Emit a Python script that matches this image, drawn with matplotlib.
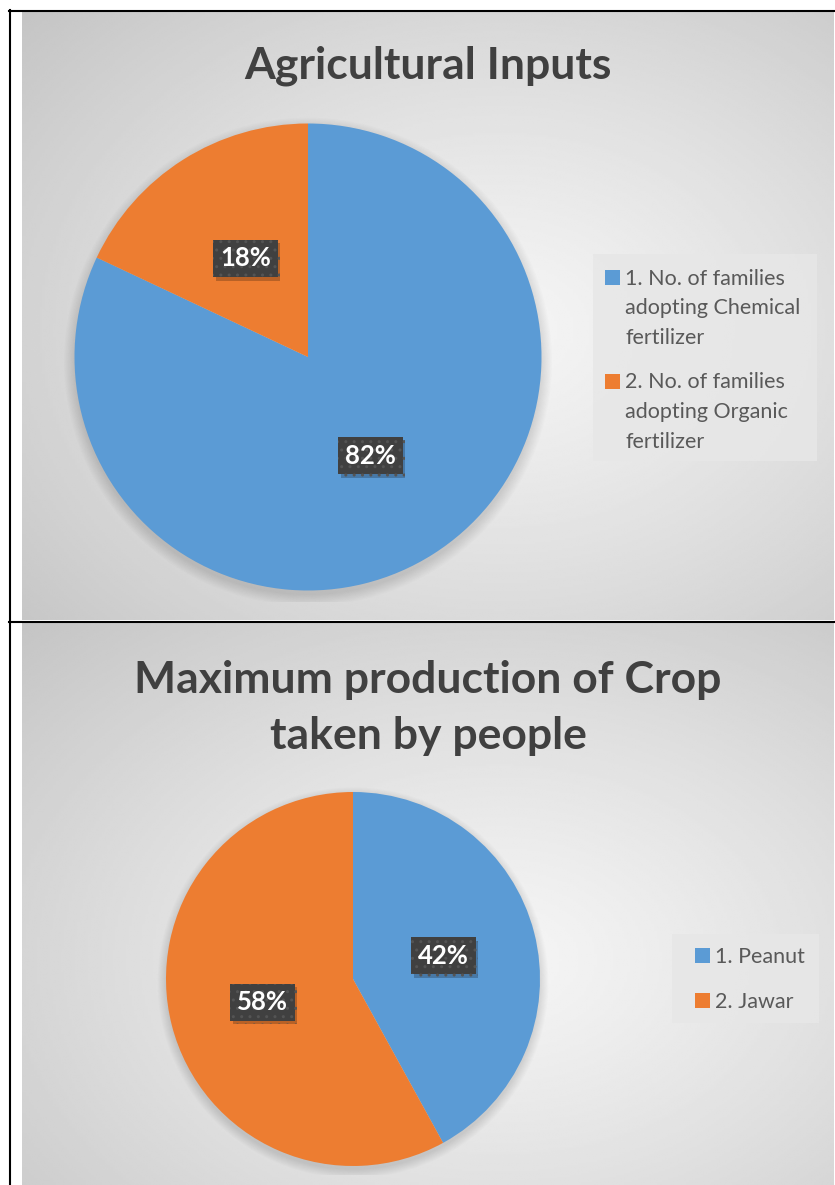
import numpy as np
import matplotlib
matplotlib.use("Agg")
import matplotlib.pyplot as plt
import matplotlib.patheffects as pe
from matplotlib.patches import Rectangle, Circle

W, H = 835, 1185

# chart data
top_title = ["Agricultural Inputs"]
top_labels = ["1. No. of families\nadopting Chemical\nfertilizer",
              "2. No. of families\nadopting Organic\nfertilizer"]
top_values = [82, 18]

bottom_title = ["Maximum production of Crop", "taken by people"]
bottom_labels = ["1. Peanut", "2. Jawar"]
bottom_values = [42, 58]

colors = ["#5B9BD5", "#ED7D31"]


def px_axes(fig, x0, y0, x1, y1, **kw):
    # axes from pixel box (top-left origin)
    return fig.add_axes([x0 / W, 1 - y1 / H, (x1 - x0) / W, (y1 - y0) / H], **kw)


def gradient(ax, x0, y0, x1, y1, cx, cy):
    xs = np.linspace(x0, x1, 300)
    ys = np.linspace(y0, y1, 300)
    X, Y = np.meshgrid(xs, ys)
    d = np.hypot((X - cx) / (x1 - x0), (Y - cy) / (y1 - y0))
    d = d / d.max()
    v = 0.96 - 0.19 * d ** 1.2
    ax.imshow(v, cmap="gray", vmin=0, vmax=1, extent=(x0, x1, y1, y0),
              aspect="auto", interpolation="bilinear", zorder=0)


def draw_pie(fig, box, values):
    ax = px_axes(fig, *box)
    ax.set_zorder(2)
    # soft shadow around the pie
    for k in range(10):
        ax.add_patch(Circle((0.0, -0.02), 1.0 + 0.005 * k, color="black",
                            alpha=0.012, lw=0, zorder=0))
    wedges, texts, autotexts = ax.pie(values, colors=colors, startangle=90, counterclock=False,
                                      radius=1, autopct="%1.0f%%", pctdistance=0.5,
                                      wedgeprops=dict(linewidth=0),
                                      textprops=dict(color="white", fontsize=18.5,
                                                     fontweight="bold", family="Lato"))
    for t in autotexts:
        t.set_bbox(dict(boxstyle="square,pad=0.26", facecolor="#404040",
                        edgecolor="#545454", linewidth=0, hatch=".."))
        t.get_bbox_patch().set_path_effects([
            pe.SimplePatchShadow(offset=(2, -2.5), shadow_rgbFace="black", alpha=0.22),
            pe.Normal()])
    ax.set_xlim(-1.05, 1.05)
    ax.set_ylim(-1.05, 1.05)
    ax.set_aspect("equal")
    ax.axis("off")
    return ax


def draw_legend(ax, box, labels, sq_x, text_x, first_base, line_h=29.5, gap=15):
    ax.add_patch(Rectangle((box[0], box[1]), box[2] - box[0], box[3] - box[1],
                           facecolor="#e7e7e7", alpha=0.85, lw=0, zorder=1))
    base = first_base
    for lab, col in zip(labels, colors):
        ax.add_patch(Rectangle((sq_x, base - 15), 15, 15, facecolor=col, lw=0, zorder=2))
        lines = lab.split("\n")
        for j, line in enumerate(lines):
            ax.text(text_x, base + j * line_h, line, fontsize=15.5, family="Lato",
                    color="#595959", ha="left", va="baseline", zorder=3)
        base += len(lines) * line_h + gap


fig = plt.figure(figsize=(W / 100, H / 100), dpi=100)
bg = fig.add_axes([0, 0, 1, 1])
bg.set_zorder(0)

# panel backgrounds
gradient(bg, 22, 12, 834, 620, 500, 330)
gradient(bg, 22, 623, 834, 1185, 500, 960)

# table lines
bg.plot([9, 835], [11, 11], color="black", lw=1.5, zorder=5)
bg.plot([9, 835], [621.5, 621.5], color="black", lw=1.5, zorder=5)
bg.plot([10, 10], [10, 1185], color="black", lw=1.5, zorder=5)

# titles
for i, line in enumerate(top_title):
    bg.text(428, 78 + i * 56, line, ha="center", va="baseline", fontsize=32,
            fontweight="bold", family="Lato", color="#404040", zorder=3)
for i, line in enumerate(bottom_title):
    bg.text(428, 693 + i * 56, line, ha="center", va="baseline", fontsize=32,
            fontweight="bold", family="Lato", color="#404040", zorder=3)

draw_legend(bg, (593, 254, 817, 461), top_labels, 605, 625, 285)
draw_legend(bg, (672, 934, 819, 1023), bottom_labels, 695, 715, 963)

bg.set_xlim(0, W)
bg.set_ylim(H, 0)
bg.axis("off")

r1 = 233.5
draw_pie(fig, (308 - r1 * 1.05, 357 - r1 * 1.05, 308 + r1 * 1.05, 357 + r1 * 1.05), top_values)
r2 = 187
draw_pie(fig, (353 - r2 * 1.05, 979 - r2 * 1.05, 353 + r2 * 1.05, 979 + r2 * 1.05), bottom_values)

fig.savefig("out.png", dpi=100)
